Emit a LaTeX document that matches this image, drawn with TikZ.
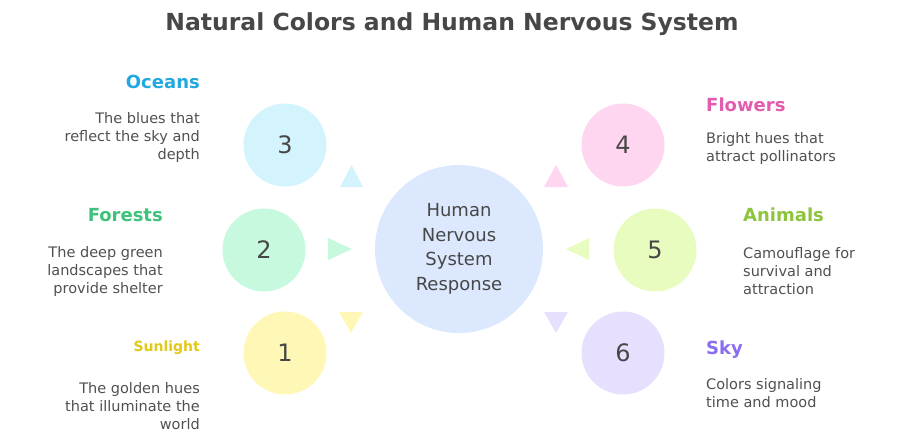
\documentclass[tikz,border=0pt]{standalone}
\usepackage{fontspec}
\setmainfont{DejaVu Sans}
\usetikzlibrary{positioning}
\definecolor{inkgray}{HTML}{474747}
\definecolor{descgray}{HTML}{505050}
\definecolor{hubblue}{HTML}{DCE8FD}
\definecolor{oceanfill}{HTML}{D3F3FD}
\definecolor{forestfill}{HTML}{C7F9DF}
\definecolor{sunfill}{HTML}{FEF7B6}
\definecolor{flowerfill}{HTML}{FED6EF}
\definecolor{animalfill}{HTML}{E8FCC0}
\definecolor{skyfill}{HTML}{E6E0FE}
\definecolor{oceanink}{HTML}{22A8DE}
\definecolor{forestink}{HTML}{3DC27A}
\definecolor{sunink}{HTML}{E2C819}
\definecolor{flowerink}{HTML}{E35BAE}
\definecolor{animalink}{HTML}{8DC43E}
\definecolor{skyink}{HTML}{8A6CF2}
\begin{document}
\begin{tikzpicture}[x=1pt, y=-1pt]
    \tikzset{%
      bubble/.style={circle, minimum size=83pt, inner sep=0pt, text=inkgray, font=\fontsize{24}{24}\selectfont},
      head/.style={inner sep=0pt, font=\bfseries\fontsize{18}{20}\selectfont},
      desc/.style={inner sep=0pt, text=descgray, font=\fontsize{14.5}{18}\selectfont}
      }
    \useasboundingbox (0,0) rectangle (919,444);
    \node [inner sep=0pt, text=inkgray, font=\bfseries\fontsize{23.5}{26}\selectfont] (title) at (452,24) {Natural Colors and Human Nervous System};

    \node [bubble, fill=hubblue, minimum size=168pt, align=center, font=\fontsize{18}{24.5}\selectfont] (hub) at (459,249) {Human\\Nervous\\System\\Response};

    \node [bubble, fill=oceanfill] (Bocean) at (285,145) {3};
    \node [bubble, fill=forestfill] (Bforest) at (264,250) {2};
    \node [bubble, fill=sunfill] (Bsun) at (285,353) {1};
    \node [bubble, fill=flowerfill] (Bflower) at (623,145) {4};
    \node [bubble, fill=animalfill] (Banimal) at (655,250) {5};
    \node [bubble, fill=skyfill] (Bsky) at (623,353) {6};

    \fill [oceanfill] (351.5,165) -- (363,187) -- (340,187) -- cycle;
    \fill [forestfill] (352,249) -- (328,260) -- (328,238) -- cycle;
    \fill [sunfill] (351,333) -- (339,312) -- (363,312) -- cycle;
    \fill [flowerfill] (556,165) -- (568,187) -- (544,187) -- cycle;
    \fill [animalfill] (566,249) -- (589,238) -- (589,260) -- cycle;
    \fill [skyfill] (556,333) -- (544,312) -- (568,312) -- cycle;

    \node [head, text=oceanink, anchor=east] (Hocean) at (200,82) {Oceans};
    \node [desc, align=right, anchor=east] (Docean) at (200,137) {The blues that\\reflect the sky and\\depth};
    \node [head, text=forestink, anchor=east] (Hforest) at (163,215) {Forests};
    \node [desc, align=right, anchor=east] (Dforest) at (163,271) {The deep green\\landscapes that\\provide shelter};
    \node [head, text=sunink, anchor=east, font=\bfseries\fontsize{14}{16}\selectfont] (Hsun) at (200,348) {Sunlight};
    \node [desc, align=right, anchor=east] (Dsun) at (200,406) {The golden hues\\that illuminate the\\world};

    \node [head, text=flowerink, anchor=west] (Hflower) at (706,105) {Flowers};
    \node [desc, align=left, anchor=west] (Dflower) at (706,148) {Bright hues that\\attract pollinators};
    \node [head, text=animalink, anchor=west] (Hanimal) at (743,215) {Animals};
    \node [desc, align=left, anchor=west] (Danimal) at (743,271) {Camouflage for\\survival and\\attraction};
    \node [head, text=skyink, anchor=west] (Hsky) at (706,350) {Sky};
    \node [desc, align=left, anchor=west] (Dsky) at (706,393) {Colors signaling\\time and mood};
  \end{tikzpicture}
\end{document}
